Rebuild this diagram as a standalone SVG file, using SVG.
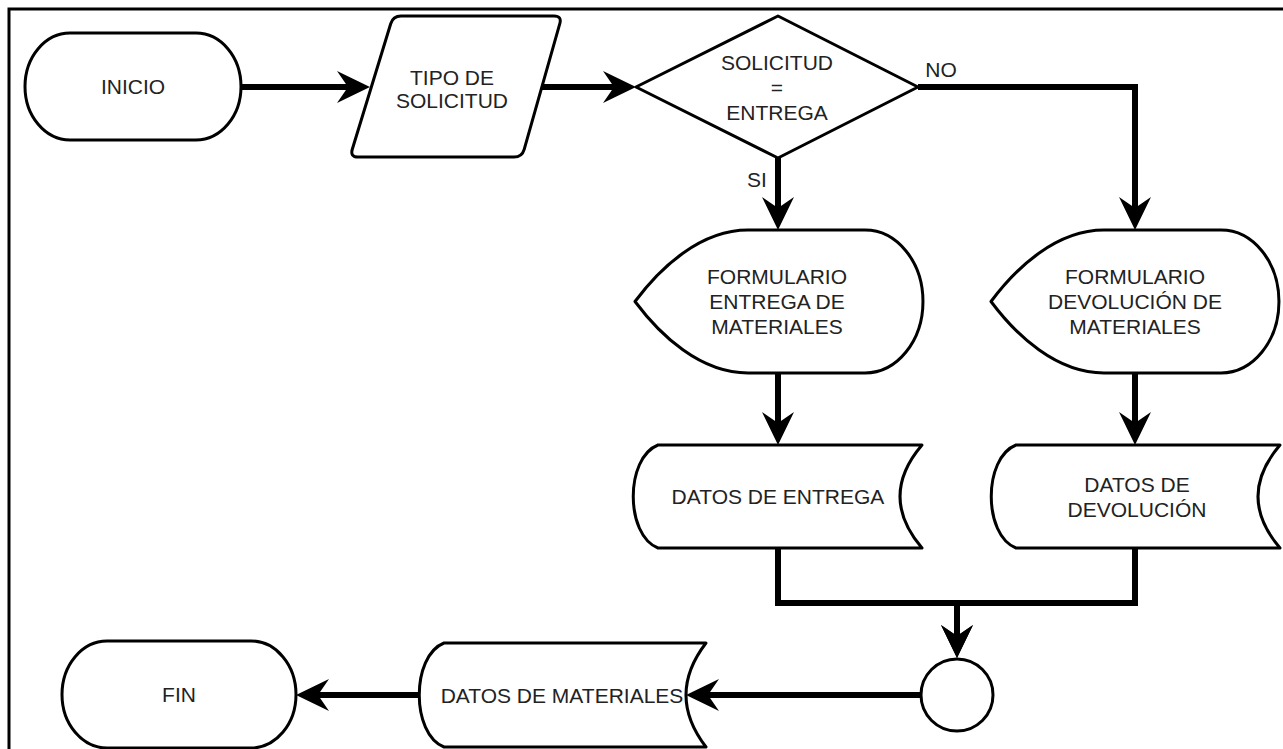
<svg xmlns="http://www.w3.org/2000/svg" width="1283" height="749" viewBox="0 0 1283 749">
<style>
.shape{fill:#ffffff;stroke:#000000;stroke-width:3;stroke-linejoin:round}
.edge{fill:none;stroke:#000000;stroke-width:6;stroke-linejoin:miter}
.lbl{font-family:"Liberation Sans",Arial,sans-serif;font-size:21px;fill:#222222;text-anchor:middle}
</style>
<defs>
<marker id="arr" markerUnits="userSpaceOnUse" markerWidth="34" markerHeight="32" refX="13" refY="16" orient="auto" viewBox="0 0 34 32">
<path d="M0,0 L33,16 L0,32 L11,16 Z" fill="#000000"/>
</marker>
</defs>
<rect x="9" y="9" width="1290" height="760" fill="#ffffff" stroke="#000000" stroke-width="3"/>
<g id="connectors">
<path class="edge" d="M241,87 H350" marker-end="url(#arr)"/>
<path class="edge" d="M542,87 H616" marker-end="url(#arr)"/>
<path class="edge" d="M778,158 V210" marker-end="url(#arr)"/>
<path class="edge" d="M918,87 H1135 V210" marker-end="url(#arr)"/>
<path class="edge" d="M778,373 V425" marker-end="url(#arr)"/>
<path class="edge" d="M1135,373 V425" marker-end="url(#arr)"/>
<path class="edge" d="M778,548 V603 H957 V638" marker-end="url(#arr)"/>
<path class="edge" d="M1135,548 V603 H957 V638" marker-end="url(#arr)"/>
<path class="edge" d="M921,695 H706" marker-end="url(#arr)"/>
<path class="edge" d="M420,695 H316" marker-end="url(#arr)"/>
<text class="lbl" x="941" y="77" font-size="20">NO</text>
<text class="lbl" x="757" y="187" font-size="20">SI</text>
</g>
<g id="inicio">
<rect class="shape" x="25" y="33" width="216" height="107" rx="45" ry="53.5"/>
<text class="lbl" x="133" y="94">INICIO</text>
</g>
<g id="tipo">
<path class="shape" d="M401,16 L554,16 Q562,16 559.8,23.7 L524.2,149.3 Q522,157 514,157 L358,157 Q350,157 352.3,149.3 L390.7,23.7 Q393,16 401,16 Z"/>
<text class="lbl" x="452" y="85">TIPO DE</text>
<text class="lbl" x="452" y="108">SOLICITUD</text>
</g>
<g id="decision">
<path class="shape" d="M636,87 L778,16 L918,87 L778,158 Z"/>
<text class="lbl" x="777" y="70">SOLICITUD</text>
<text class="lbl" x="777" y="95">=</text>
<text class="lbl" x="777" y="120">ENTREGA</text>
</g>
<g id="form-entrega">
<path class="shape" d="M635,301.5 C660,268 700,230 748,230 L865,230 A58,71.5 0 0 1 865,373 L748,373 C700,373 660,335 635,301.5 Z"/>
<text class="lbl" x="777" y="284">FORMULARIO</text>
<text class="lbl" x="777" y="309">ENTREGA DE</text>
<text class="lbl" x="777" y="334">MATERIALES</text>
</g>
<g id="form-devolucion">
<path class="shape" d="M991,301.5 C1016,268 1056,230 1104,230 L1221,230 A58,71.5 0 0 1 1221,373 L1104,373 C1056,373 1016,335 991,301.5 Z"/>
<text class="lbl" x="1135" y="284">FORMULARIO</text>
<text class="lbl" x="1135" y="309">DEVOLUCIÓN DE</text>
<text class="lbl" x="1135" y="334">MATERIALES</text>
</g>
<g id="datos-entrega">
<path class="shape" d="M658,445 L922,445 Q878,496.5 922,548 L658,548 C625,535 625,458 658,445 Z"/>
<text class="lbl" x="778" y="504">DATOS DE ENTREGA</text>
</g>
<g id="datos-devolucion">
<path class="shape" d="M1016,445 L1280,445 Q1236,496.5 1280,548 L1016,548 C983,535 983,458 1016,445 Z"/>
<text class="lbl" x="1137" y="492">DATOS DE</text>
<text class="lbl" x="1137" y="517">DEVOLUCIÓN</text>
</g>
<g id="union">
<circle class="shape" cx="957" cy="695" r="36"/>
</g>
<g id="datos-materiales">
<path class="shape" d="M444,643 L706,643 Q666,695 706,747 L444,747 C411,734 411,656 444,643 Z"/>
<text class="lbl" x="562" y="703">DATOS DE MATERIALES</text>
</g>
<g id="fin">
<rect class="shape" x="62" y="641" width="234" height="107" rx="45" ry="53.5"/>
<text class="lbl" x="179" y="702">FIN</text>
</g>
</svg>
